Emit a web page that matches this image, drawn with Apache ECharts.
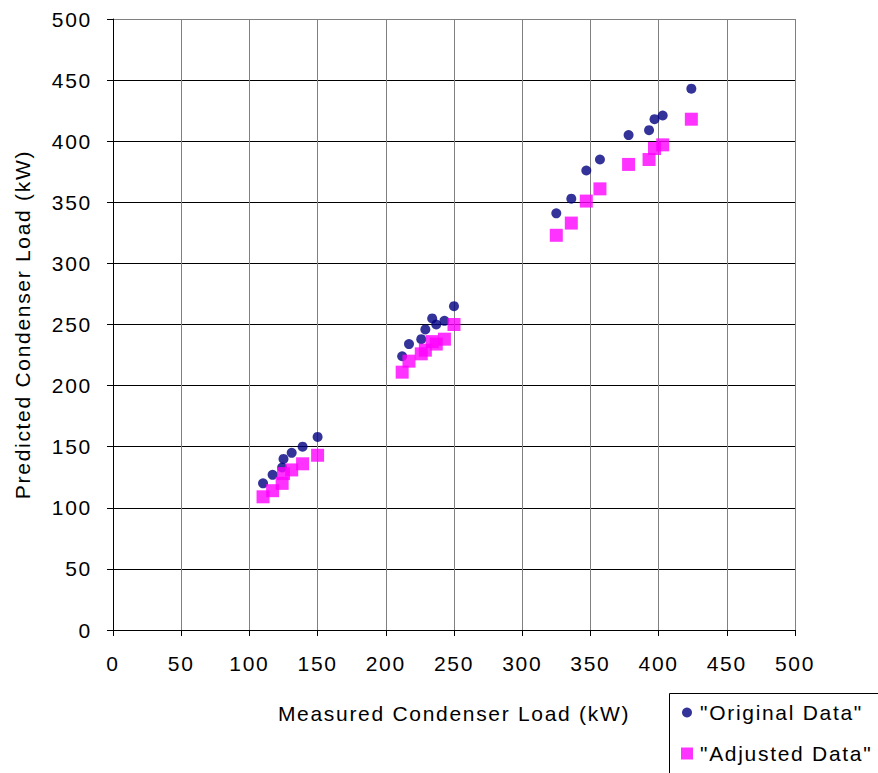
<!DOCTYPE html>
<html>
<head>
<meta charset="utf-8">
<script src="https://cdn.jsdelivr.net/npm/echarts@6/dist/echarts.min.js"></script>
<style>html,body{margin:0;padding:0;background:#fff;}#c{width:878px;height:773px;}#c text{letter-spacing:1.7px;}</style>
</head>
<body>
<div id="c"></div>
<script>
const measuredLoad = [110, 117, 124, 125, 131, 139, 150,
  212, 217, 226, 229, 234, 237, 243, 250,
  325, 336, 347, 357, 378, 393, 397, 403, 424];
const originalPredicted = [120, 127, 133, 140, 145, 150, 158,
  224, 234, 238, 246, 255, 250, 253, 265,
  341, 353, 376, 385, 405, 409, 418, 421, 443];
const adjustedPredicted = [109, 114, 120, 128, 131, 136, 143,
  211, 220, 226, 229, 236, 234, 238, 250,
  323, 333, 351, 361, 381, 385, 394, 397, 418];
const seriesNames = ['"Original Data"', '"Adjusted Data"'];

const font = 'Liberation Sans, Arial, sans-serif';
const fs = 21;
const chart = echarts.init(document.getElementById('c'), null, { renderer: 'svg' });
const pair = (ys) => measuredLoad.map((x, i) => [x, ys[i]]);
const yLineColors = ['#000','#000','#000','#000','#000','#000','#000','#000','#000','#000','#808080'];
chart.setOption({
  animation: false,
  backgroundColor: '#fff',
  grid: { left: 113, right: 83, top: 19, bottom: 143, show: false },
  xAxis: {
    type: 'value', min: 0, max: 500, interval: 50,
    name: 'Measured Condenser Load (kW)', nameLocation: 'middle', nameGap: 73,
    nameTextStyle: { fontFamily: font, fontSize: fs, color: '#000' },
    axisLine: { show: true, onZero: false, lineStyle: { color: '#000', width: 1 } },
    axisTick: { show: true, length: 6, inside: false, lineStyle: { color: '#000' } },
    axisLabel: { fontFamily: font, fontSize: fs, color: '#000', margin: 23 },
    splitLine: { show: true, lineStyle: { color: '#808080', width: 1 } }
  },
  yAxis: {
    type: 'value', min: 0, max: 500, interval: 50,
    name: 'Predicted Condenser Load (kW)', nameLocation: 'middle', nameGap: 80,
    nameTextStyle: { fontFamily: font, fontSize: fs, color: '#000' },
    axisLine: { show: true, onZero: false, lineStyle: { color: '#000', width: 1 } },
    axisTick: { show: true, length: 6, lineStyle: { color: '#000' } },
    axisLabel: { fontFamily: font, fontSize: fs, color: '#000', margin: 21 },
    splitLine: { show: true, lineStyle: { color: yLineColors, width: 1 } }
  },
  legend: [
    { data: [{ name: seriesNames[0], icon: 'circle' }], orient: 'vertical', left: 677, top: 697,
      itemWidth: 10, itemHeight: 10, itemGap: 0,
      textStyle: { fontFamily: font, fontSize: fs, color: '#000', padding: [0,0,0,3] } },
    { data: [{ name: seriesNames[1], icon: 'rect' }], orient: 'vertical', left: 676, top: 738,
      itemWidth: 12, itemHeight: 12, itemGap: 0,
      textStyle: { fontFamily: font, fontSize: fs, color: '#000', padding: [0,0,0,2] } }
  ],
  graphic: [
    { type: 'rect', left: 667, top: 691, shape: { width: 209, height: 100 },
      style: { fill: 'none', stroke: '#000', lineWidth: 1 } }
  ],
  series: [
    { name: seriesNames[0], type: 'scatter', data: pair(originalPredicted), symbol: 'circle', symbolSize: 10,
      itemStyle: { color: '#000080' }, z: 3 },
    { name: seriesNames[1], type: 'scatter', data: pair(adjustedPredicted), symbol: 'rect', symbolSize: 13,
      itemStyle: { color: '#ff00ff' }, z: 4 }
  ]
});
</script>
</body>
</html>
